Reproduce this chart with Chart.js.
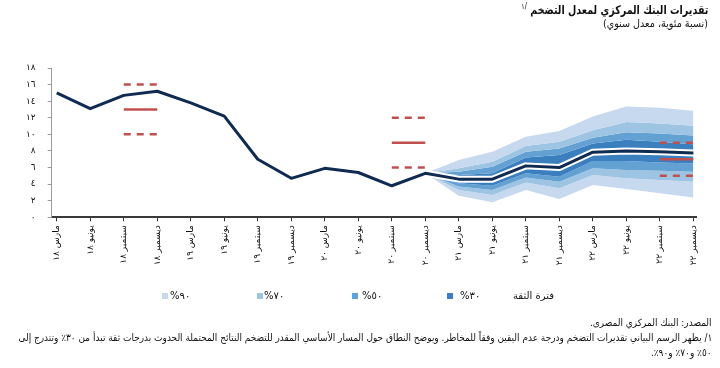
<!DOCTYPE html>
<html lang="ar">
<head>
<meta charset="utf-8">
<script src="https://cdn.jsdelivr.net/npm/chart.js@4.4.1/dist/chart.umd.min.js"></script>
<style>
  html, body { margin: 0; padding: 0; background: #ffffff; }
  #wrap { position: relative; width: 720px; height: 368px; overflow: hidden; font-family: "DejaVu Sans", sans-serif; color: #111; }
  #c { position: absolute; left: 0; top: 0; }
  .rt { position: absolute; direction: rtl; white-space: nowrap; transform-origin: right center; }
  #title { right: 12px; top: 2px; font-size: 12px; font-weight: bold; color: #111; }
  #title sup { font-size: 8px; font-weight: normal; }
  #subtitle { right: 12px; top: 17px; font-size: 10.5px; }
  .leg { position: absolute; top: 290px; font-size: 10px; white-space: nowrap; line-height: 12px; }
  .sq { position: absolute; top: 293px; width: 6px; height: 6px; }
  .fn { right: 8px; font-size: 10px; line-height: 12px; }
</style>
</head>
<body>
<div id="wrap">
  <canvas id="c" width="720" height="368"></canvas>
  <div id="title" class="rt">تقديرات البنك المركزي لمعدل التضخم <sup>/١</sup></div>
  <div id="subtitle" class="rt">(نسبة مئوية، معدل سنوي)</div>
  <div id="legend"></div>
  <div id="fn1" class="rt fn" style="top:317px">المصدر: البنك المركزي المصرى.</div>
  <div id="fn2" class="rt fn" style="top:332px">١/ يظهر الرسم البياني تقديرات التضخم ودرجة عدم اليقين وفقاً للمخاطر. ويوضح النطاق حول المسار الأساسي المقدر للتضخم النتائج المحتملة الحدوث بدرجات ثقة تبدأ من ٣٠٪ وتتدرج إلى</div>
  <div id="fn3" class="rt fn" style="top:347px">٥٠٪ و٧٠٪ و٩٠٪.</div>
</div>
<script>
// ---------- data ----------
const quarters = ['مارس ١٨','يونيو ١٨','سبتمبر ١٨','ديسمبر ١٨','مارس ١٩','يونيو ١٩','سبتمبر ١٩','ديسمبر ١٩','مارس ٢٠','يونيو ٢٠','سبتمبر ٢٠','ديسمبر ٢٠','مارس ٢١','يونيو ٢١','سبتمبر ٢١','ديسمبر ٢١','مارس ٢٢','يونيو ٢٢','سبتمبر ٢٢','ديسمبر ٢٢'];
const yTickLabels = ['٠','٢','٤','٦','٨','١٠','١٢','١٤','١٦','١٨'];

// actual inflation (quarterly), Mar-18 .. Dec-20
const actual = [15.0, 13.1, 14.7, 15.2, 13.8, 12.2, 7.0, 4.7, 5.9, 5.4, 3.8, 5.3];

// forecast starts at Dec-20 (index 11)
const forecastStart = 11;
const baseline = [5.3, 4.6, 4.6, 6.2, 6.0, 7.85, 8.0, 7.9, 7.75];
const upper90 = [5.3, 6.9, 7.9, 9.7, 10.4, 12.15, 13.35, 13.2, 12.85];
const upper70 = [5.3, 5.9, 6.7, 8.6, 9.1, 10.5, 11.5, 11.3, 11.05];
const upper50 = [5.3, 5.5, 6.1, 7.9, 8.3, 9.6, 10.25, 10.1, 9.85];
const upper30 = [5.3, 5.1, 5.3, 7.2, 7.5, 8.9, 9.35, 9.1, 8.8];
const lower30 = [5.3, 4.1, 3.8, 5.3, 4.9, 6.8, 6.8, 6.6, 6.5];
const lower50 = [5.3, 3.7, 3.3, 4.8, 4.3, 5.9, 5.7, 5.6, 5.5];
const lower70 = [5.3, 3.3, 2.7, 4.2, 3.5, 5.1, 4.7, 4.5, 4.3];
const lower90 = [5.3, 2.6, 1.8, 3.3, 2.2, 3.9, 3.4, 2.9, 2.4];

// inflation targets: quarter span, midpoint, tolerance
const targetSpans = [[2, 3], [10, 11], [18, 19]];
const targetMid = [13, 9, 7];
const targetTol = [3, 3, 2];

const bandNames = ['%٩٠', '%٧٠', '%٥٠', '%٣٠'];
const bandColors = ['#c6d9ef', '#9dc4e3', '#63a1d3', '#3c7fbf'];
const legendTitle = 'فترة الثقة';

// ---------- helpers ----------
const series = (arr, start) => arr.map((v, i) => ({ x: start + i, y: v }));
const navy = '#0f2b52';
const red = '#c0504d';

const datasets = [];
// main line (actual + baseline)
datasets.push({ data: series(actual.concat(baseline.slice(1)), 0), borderColor: navy, borderWidth: 3, order: 0, borderJoinStyle: 'round' });
// white outline of the forecast line
datasets.push({ data: series(baseline, forecastStart), borderColor: '#ffffff', borderWidth: 7, order: 1, borderJoinStyle: 'round' });
// targets
targetSpans.forEach((sp, k) => {
  const mk = (v, dash) => ({ data: sp.map(x => ({ x, y: v })), borderColor: red, borderWidth: 2.5, borderDash: dash, order: -1 });
  datasets.push(mk(targetMid[k], []));
  datasets.push(mk(targetMid[k] + targetTol[k], [7, 6]));
  datasets.push(mk(targetMid[k] - targetTol[k], [7, 6]));
});
// fan: boundaries from top to bottom, each strip filled to the next boundary
const bounds = [upper90, upper70, upper50, upper30, lower30, lower50, lower70, lower90];
const stripColor = [bandColors[0], bandColors[1], bandColors[2], bandColors[3], bandColors[2], bandColors[1], bandColors[0], null];
bounds.forEach((b, k) => {
  const col = stripColor[k] || 'rgba(0,0,0,0)';
  datasets.push({ data: series(b, forecastStart), borderWidth: 0, borderColor: col, backgroundColor: col, fill: stripColor[k] ? '+1' : false, order: 5 });
});

new Chart(document.getElementById('c'), {
  type: 'line',
  data: { datasets },
  options: {
    responsive: false,
    animation: false,
    devicePixelRatio: 1,
    layout: { padding: { left: 0, top: 68, right: 23.3, bottom: 100.7 } },
    elements: { point: { radius: 0 }, line: { tension: 0 } },
    plugins: { legend: { display: false }, tooltip: { enabled: false }, title: { display: false } },
    scales: {
      x: {
        type: 'linear', min: -0.15, max: 19.1,
        afterBuildTicks: s => { s.ticks = quarters.map((_, i) => ({ value: i })); },
        afterFit: s => { s.height = 50; },
        grid: { drawOnChartArea: false, drawTicks: true, tickLength: 4, color: '#333', lineWidth: 1 },
        border: { display: true, color: '#3a3a3a', width: 2 },
        ticks: {
          autoSkip: false, minRotation: 90, maxRotation: 90, padding: 4,
          color: '#111', font: { family: 'DejaVu Sans', size: 9 },
          callback: v => quarters[Math.round(v)]
        }
      },
      y: {
        min: 0, max: 18,
        afterFit: s => { s.width = 51.7; },
        grid: { drawOnChartArea: false, drawTicks: true, tickLength: 4, color: '#9a9a9a' },
        border: { display: true, color: '#9a9a9a', width: 1 },
        ticks: {
          stepSize: 2, padding: 12, color: '#111', font: { family: 'DejaVu Sans', size: 9 },
          callback: v => yTickLabels[Math.round(v / 2)]
        }
      }
    }
  }
});

// ---------- legend (HTML) ----------
const legend = document.getElementById('legend');
const sqLeft = [162, 257, 352, 447];
const txLeft = [170, 264, 362, 460];
bandNames.forEach((n, i) => {
  const sq = document.createElement('div');
  sq.className = 'sq'; sq.style.left = sqLeft[i] + 'px'; sq.style.background = bandColors[i];
  legend.appendChild(sq);
  const t = document.createElement('div');
  t.className = 'leg'; t.style.left = txLeft[i] + 'px'; t.style.direction = 'rtl';
  t.textContent = n.replace('%', '') + '%';
  legend.appendChild(t);
});
const lt = document.createElement('div');
lt.className = 'leg'; lt.style.left = '513px'; lt.style.direction = 'rtl'; lt.textContent = legendTitle;
legend.appendChild(lt);

// ---------- fit text blocks to the reference widths ----------
function fit(id, w) {
  const el = document.getElementById(id);
  const cur = el.getBoundingClientRect().width;
  const s = w / cur;
  el.style.transform = 'scaleX(' + s + ')';
  return s;
}
fit('title', 187);
fit('subtitle', 105);
const sFn = fit('fn2', 694);
['fn1', 'fn3'].forEach(id => { document.getElementById(id).style.transform = 'scaleX(' + sFn + ')'; });
</script>
</body>
</html>
